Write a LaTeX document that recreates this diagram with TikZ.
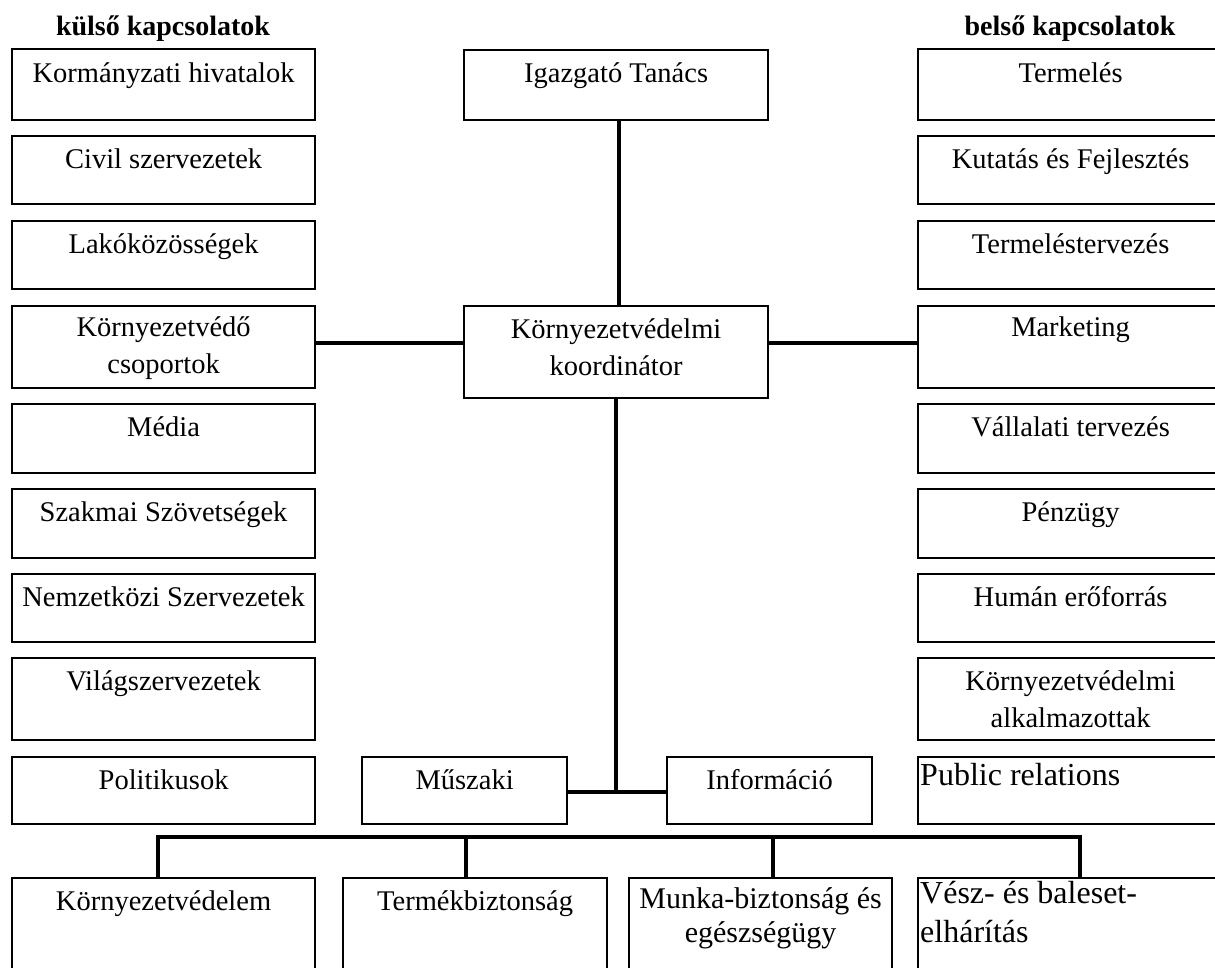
\documentclass[tikz,border=0pt]{standalone}
\usepackage{fontspec}
\setmainfont{Liberation Serif}
\begin{document}
\begin{tikzpicture}[x=1pt,y=-1pt,
  box/.style={draw, line width=2.2pt, anchor=north west, inner sep=0pt, minimum width=#1},
  txt/.style={font=\fontsize{28.5}{37}\selectfont, anchor=base, align=center, inner sep=0pt},
  bigtxt/.style={font=\fontsize{32}{39}\selectfont, anchor=base west, align=left, inner sep=0pt},
  head/.style={font=\fontsize{28}{34}\selectfont\bfseries, anchor=base, inner sep=0pt},
  conn/.style={line width=4.2pt}]
\useasboundingbox (0,0) rectangle (1215,967);
\clip (0,0) rectangle (1215,967);
\fill[white] (0,0) rectangle (1215,967);

% headings
\node[head] (hl) at (163,35) {külső kapcsolatok};
\node[head] (hr) at (1070,35) {belső kapcsolatok};

% left column
\node[box=303pt, minimum height=71pt] (l1) at (11,48) {};
\node[box=303pt, minimum height=68pt] (l2) at (11,135) {};
\node[box=303pt, minimum height=68pt] (l3) at (11,220) {};
\node[box=303pt, minimum height=82pt] (l4) at (11,305) {};
\node[box=303pt, minimum height=69pt] (l5) at (11,403) {};
\node[box=303pt, minimum height=69pt] (l6) at (11,488) {};
\node[box=303pt, minimum height=68pt] (l7) at (11,573) {};
\node[box=303pt, minimum height=82pt] (l8) at (11,657) {};
\node[box=303pt, minimum height=67pt] (l9) at (11,756) {};
\node[txt] (tl1) at ([yshift=-34pt]l1.north) {Kormányzati hivatalok};
\node[txt] (tl2) at ([yshift=-33pt]l2.north) {Civil szervezetek};
\node[txt] (tl3) at ([yshift=-33pt]l3.north) {Lakóközösségek};
\node[txt] (tl4) at ([yshift=-68pt]l4.north) {Környezetvédő\\csoportok};
\node[txt] (tl5) at ([yshift=-33pt]l5.north) {Média};
\node[txt] (tl6) at ([yshift=-33pt]l6.north) {Szakmai Szövetségek};
\node[txt] (tl7) at ([yshift=-33pt]l7.north) {Nemzetközi Szervezetek};
\node[txt] (tl8) at ([yshift=-33pt]l8.north) {Világszervezetek};
\node[txt] (tl9) at ([yshift=-33pt]l9.north) {Politikusok};

% right column
\node[box=305pt, minimum height=71pt] (r1) at (917,48) {};
\node[box=305pt, minimum height=68pt] (r2) at (917,135) {};
\node[box=305pt, minimum height=68pt] (r3) at (917,220) {};
\node[box=305pt, minimum height=82pt] (r4) at (917,305) {};
\node[box=305pt, minimum height=69pt] (r5) at (917,403) {};
\node[box=305pt, minimum height=69pt] (r6) at (917,488) {};
\node[box=305pt, minimum height=68pt] (r7) at (917,573) {};
\node[box=305pt, minimum height=82pt] (r8) at (917,657) {};
\node[box=305pt, minimum height=67pt] (r9) at (917,756) {};
\node[txt] (tr1) at ([yshift=-34pt]r1.north) {Termelés};
\node[txt] (tr2) at ([yshift=-33pt]r2.north) {Kutatás és Fejlesztés};
\node[txt] (tr3) at ([yshift=-33pt]r3.north) {Termeléstervezés};
\node[txt] (tr4) at ([yshift=-31pt]r4.north) {Marketing};
\node[txt] (tr5) at ([yshift=-33pt]r5.north) {Vállalati tervezés};
\node[txt] (tr6) at ([yshift=-33pt]r6.north) {Pénzügy};
\node[txt] (tr7) at ([yshift=-33pt]r7.north) {Humán erőforrás};
\node[txt] (tr8) at ([yshift=-70pt]r8.north) {Környezetvédelmi\\alkalmazottak};
\node[bigtxt] (tr9) at ([xshift=3pt,yshift=-29pt]r9.north west) {Public relations};

% centre
\node[box=304pt, minimum height=70pt] (ig) at (463,49) {};
\node[txt] (tig) at ([yshift=-33pt]ig.north) {Igazgató Tanács};
\node[box=304pt, minimum height=92pt] (ko) at (463,305) {};
\node[txt] (tko) at ([yshift=-70pt]ko.north) {Környezetvédelmi\\koordinátor};
\node[box=205pt, minimum height=67pt] (mu) at (361,756) {};
\node[txt] (tmu) at ([yshift=-33pt]mu.north) {Műszaki};
\node[box=205pt, minimum height=67pt] (inf) at (666,756) {};
\node[txt] (tinf) at ([yshift=-33pt]inf.north) {Információ};

% bottom row
\node[box=303pt, minimum height=110pt] (b1) at (11,877) {};
\node[box=264pt, minimum height=110pt] (b2) at (342,877) {};
\node[box=263pt, minimum height=110pt] (b3) at (628,877) {};
\node[box=305pt, minimum height=110pt] (b4) at (917,877) {};
\node[txt] (tb1) at ([yshift=-33pt]b1.north) {Környezetvédelem};
\node[txt] (tb2) at ([yshift=-33pt]b2.north) {Termékbiztonság};
\node[txt, font=\fontsize{30}{34}\selectfont] (tb3) at ([yshift=-65pt]b3.north) {Munka-biztonság és\\egészségügy};
\node[bigtxt] (tb4) at ([xshift=3pt,yshift=-65pt]b4.north west) {Vész- és baleset-\\elhárítás};

% connectors
\coordinate (hy) at (0,343);
\coordinate (j) at (616,792);
\coordinate (d1) at (158,837);
\coordinate (d2) at (466,837);
\coordinate (d3) at (773,837);
\coordinate (d4) at (1080,837);
\draw[conn] ([xshift=3pt]ig.south) -- ([xshift=3pt]ko.north);
\draw[conn] (l4.east |- hy) -- (ko.west |- hy);
\draw[conn] (ko.east |- hy) -- (r4.west |- hy);
\draw[conn] (ko.south -| j) -- (j);
\draw[conn] (mu.east |- j) -- (inf.west |- j);
\draw[conn] (b1.north -| d1) -- (d1) -- (d4) -- (b4.north -| d4);
\draw[conn] (d2) -- (b2.north -| d2);
\draw[conn] (d3) -- (b3.north -| d3);
\end{tikzpicture}
\end{document}
